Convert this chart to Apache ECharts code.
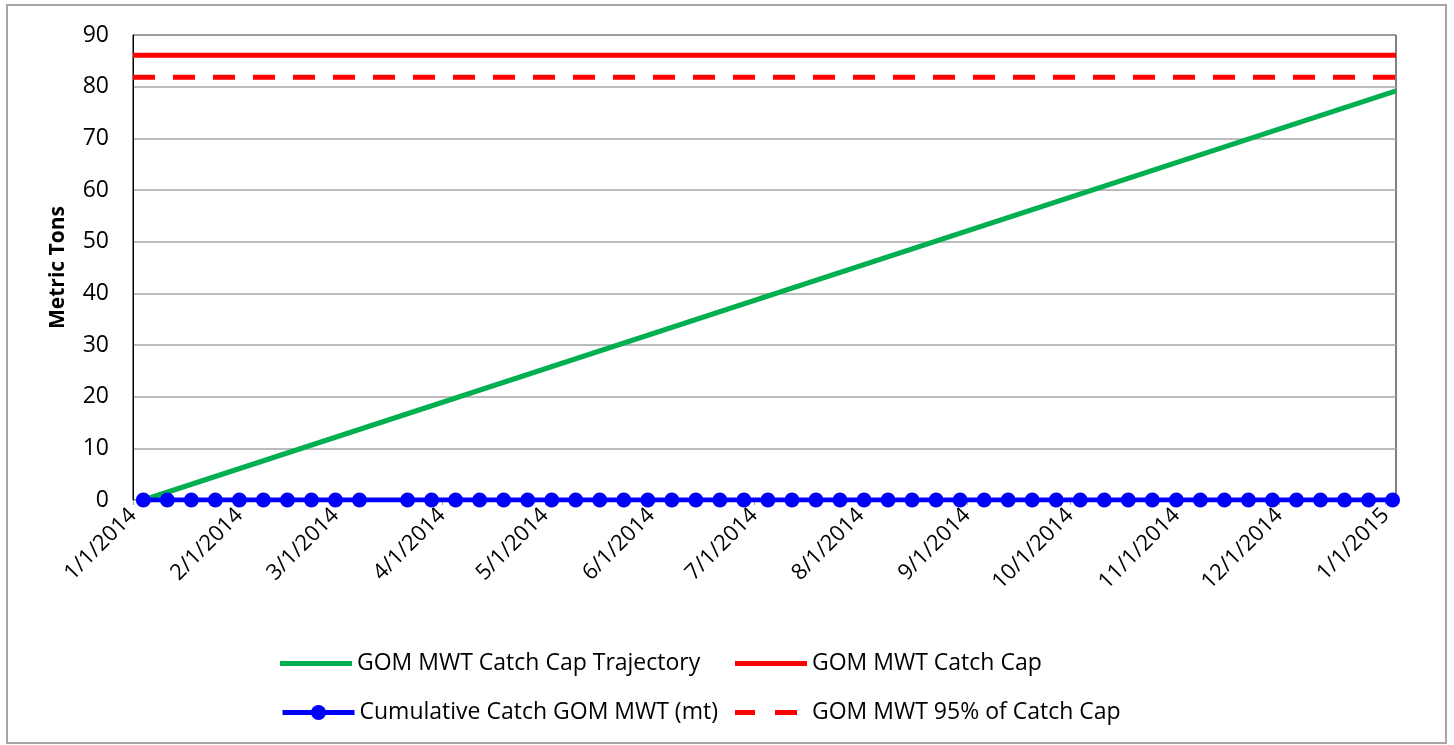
<!DOCTYPE html>
<html>
<head>
<meta charset="utf-8">
<script src="https://cdn.jsdelivr.net/npm/echarts@6/dist/echarts.min.js"></script>
<style>
  html, body { margin: 0; padding: 0; background: #fff; }
  #chart { width: 1454px; height: 745px; }
</style>
</head>
<body>
<div id="chart"></div>
<script>
// 周度累计渔获 (weekly points, 3/15 missing)
const catchDates = [
  '2014-01-04', '2014-01-11', '2014-01-18', '2014-01-25',
  '2014-02-01', '2014-02-08', '2014-02-15', '2014-02-22',
  '2014-03-01', '2014-03-08', '2014-03-22', '2014-03-29',
  '2014-04-05', '2014-04-12', '2014-04-19', '2014-04-26',
  '2014-05-03', '2014-05-10', '2014-05-17', '2014-05-24', '2014-05-31',
  '2014-06-07', '2014-06-14', '2014-06-21', '2014-06-28',
  '2014-07-05', '2014-07-12', '2014-07-19', '2014-07-26',
  '2014-08-02', '2014-08-09', '2014-08-16', '2014-08-23', '2014-08-30',
  '2014-09-06', '2014-09-13', '2014-09-20', '2014-09-27',
  '2014-10-04', '2014-10-11', '2014-10-18', '2014-10-25',
  '2014-11-01', '2014-11-08', '2014-11-15', '2014-11-22', '2014-11-29',
  '2014-12-06', '2014-12-13', '2014-12-20', '2014-12-27',
  '2015-01-03'
];
const catchValues = [
  0, 0, 0, 0,
  0, 0, 0, 0,
  0, 0, 0, 0,
  0, 0, 0, 0,
  0, 0, 0, 0, 0,
  0, 0, 0, 0,
  0, 0, 0, 0,
  0, 0, 0, 0, 0,
  0, 0, 0, 0,
  0, 0, 0, 0,
  0, 0, 0, 0, 0,
  0, 0, 0, 0,
  0
];

// trajectory end points
const trajectoryDates = ['2014-01-04', '2015-01-04'];
const trajectoryValues = [0, 79.2];

// cap lines
const capDates = ['2014-01-01', '2015-01-04'];
const capValues = [86.1, 86.1];
const cap95Values = [81.8, 81.8];

const yTicks = { min: 0, max: 90, interval: 10 };
const xRange = { min: '2014-01-01', max: '2015-01-04' };

const names = [
  'GOM MWT Catch Cap Trajectory',
  'GOM MWT Catch Cap',
  'Cumulative Catch GOM MWT (mt)',
  'GOM MWT 95% of Catch Cap'
];

const zip = (xs, ys) => xs.map((x, i) => [x, ys[i]]);

const FONT = 'Open Sans';
const DAY = 86400000;

const legendBase = {
  padding: 0,
  itemWidth: 72,
  itemHeight: 5,
  itemGap: 5,
  textStyle: { fontFamily: FONT, fontSize: 23, color: '#000' }
};

const myChart = echarts.init(document.getElementById('chart'));

const option = {
  backgroundColor: '#fff',
  animation: false,
  graphic: [{
    type: 'rect',
    shape: { x: 7, y: 5, width: 1439, height: 738 },
    style: { fill: 'none', stroke: '#a6a6a6', lineWidth: 2 },
    silent: true
  }],
  grid: {
    left: 133,
    right: 58,
    top: 35,
    bottom: 245,
    show: true,
    borderColor: '#000',
    borderWidth: 1
  },
  legend: [
    Object.assign({}, legendBase, {
      left: 280, top: 652,
      data: [{ name: names[0], icon: 'rect' }]
    }),
    Object.assign({}, legendBase, {
      left: 735, top: 652,
      data: [{ name: names[1], icon: 'rect' }]
    }),
    Object.assign({}, legendBase, {
      left: 280, top: 701,
      itemHeight: 19,
      lineStyle: { width: 5 },
      data: [names[2]]
    }),
    Object.assign({}, legendBase, {
      left: 735, top: 701,
      itemWidth: 62,
      textStyle: Object.assign({}, legendBase.textStyle, { padding: [0, 0, 0, 10] }),
      data: [{ name: names[3], icon: 'path://M0,0H20V5H0Z M40,0H62V5H40Z' }]
    })
  ],
  xAxis: {
    type: 'time',
    min: xRange.min,
    max: xRange.max,
    minInterval: 28 * DAY,
    maxInterval: 31 * DAY,
    splitNumber: 12,
    axisLine: { lineStyle: { color: '#a6a6a6', width: 1 } },
    axisTick: { show: true, length: 5, lineStyle: { color: '#a6a6a6' } },
    splitLine: { show: false },
    axisLabel: {
      rotate: 45,
      margin: 12,
      fontFamily: FONT,
      fontSize: 22,
      color: '#000',
      hideOverlap: false,
      showMinLabel: true,
      showMaxLabel: true,
      formatter: function (v) {
        const d = new Date(v);
        if (d.getDate() !== 1) return '';
        return (d.getMonth() + 1) + '/1/' + d.getFullYear();
      }
    }
  },
  yAxis: {
    type: 'value',
    min: yTicks.min,
    max: yTicks.max,
    interval: yTicks.interval,
    name: 'Metric Tons',
    nameLocation: 'middle',
    nameRotate: 90,
    nameGap: 64,
    nameTextStyle: { fontFamily: FONT, fontSize: 21, fontWeight: 'bold', color: '#000' },
    axisLine: { show: true, lineStyle: { color: '#000', width: 1 } },
    axisTick: { show: false },
    axisLabel: { fontFamily: FONT, fontSize: 23, color: '#000', margin: 24 },
    splitLine: { lineStyle: { color: '#a6a6a6', width: 1.5 } }
  },
  series: [{
    name: names[0],
    type: 'line',
    data: zip(trajectoryDates, trajectoryValues),
    showSymbol: false,
    symbol: 'none',
    lineStyle: { color: '#00b050', width: 5 },
    itemStyle: { color: '#00b050' },
    z: 2
  }, {
    name: names[1],
    type: 'line',
    data: zip(capDates, capValues),
    symbol: 'none',
    lineStyle: { color: '#ff0000', width: 5 },
    itemStyle: { color: '#ff0000' },
    z: 2
  }, {
    name: names[2],
    type: 'line',
    data: zip(catchDates, catchValues),
    symbol: 'circle',
    symbolSize: 15,
    lineStyle: { color: '#0000ff', width: 5 },
    itemStyle: { color: '#0000ff' },
    z: 3
  }, {
    name: names[3],
    type: 'line',
    data: zip(capDates, cap95Values),
    symbol: 'none',
    lineStyle: { color: '#ff0000', width: 5, type: [22, 18] },
    itemStyle: { color: '#ff0000' },
    z: 2
  }]
};

myChart.setOption(option);
</script>
</body>
</html>
